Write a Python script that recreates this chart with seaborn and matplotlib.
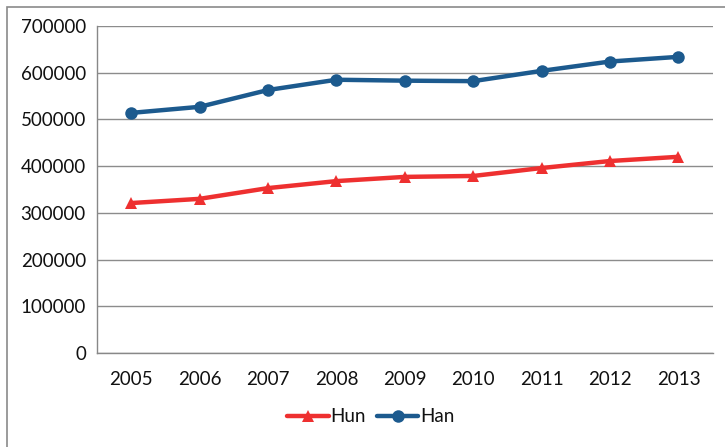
import pandas as pd
import matplotlib.pyplot as plt
import seaborn as sns
from matplotlib.patches import Rectangle

# datos
years = ["2005", "2006", "2007", "2008", "2009", "2010", "2011", "2012", "2013"]
hun = [321000, 330000, 353000, 368000, 377000, 379000, 396000, 411000, 420000]
han = [514000, 527000, 563000, 585000, 583000, 582000, 604000, 624000, 634000]

df = pd.DataFrame({
    "pos": list(range(len(years))) * 2,
    "value": hun + han,
    "serie": ["Hun"] * len(years) + ["Han"] * len(years),
})

sns.set_style("white")
plt.rcParams["font.family"] = ["Lato", "DejaVu Sans"]

fig = plt.figure(figsize=(7.25, 4.47), dpi=100)
ax = fig.add_axes([0.1338, 0.2103, 0.8492, 0.7315])

palette = {"Hun": "#EE3030", "Han": "#1C5A8E"}
sns.lineplot(
    data=df, x="pos", y="value", hue="serie", style="serie",
    markers={"Hun": "^", "Han": "o"}, dashes=False, palette=palette,
    linewidth=3.2, markersize=9, markeredgewidth=0, ax=ax,
)

fs = 13.5
ax.set_xlim(-0.5, len(years) - 0.5)
ax.set_ylim(0, 700000)
ax.set_yticks(range(0, 700001, 100000))
ax.set_yticklabels([str(v) for v in range(0, 700001, 100000)], fontsize=fs, color="#111111")
ax.set_xticks(range(len(years)))
ax.set_xticklabels(years, fontsize=fs, color="#111111")
ax.tick_params(axis="x", which="major", length=0, pad=13)
ax.set_xticks([i - 0.5 for i in range(len(years) + 1)], minor=True)
ax.tick_params(axis="x", which="minor", length=5, color="#888888", width=1)
ax.tick_params(axis="y", length=5, color="#888888", width=1, pad=3)
ax.yaxis.grid(True, color="#8c8c8c", linewidth=1)
ax.set_axisbelow(True)
ax.set_xlabel("")
ax.set_ylabel("")
for side in ["top", "right"]:
    ax.spines[side].set_visible(False)
for side in ["left", "bottom"]:
    ax.spines[side].set_color("#888888")
    ax.spines[side].set_linewidth(1)

leg = ax.legend(
    title=None, loc="center", bbox_to_anchor=(0.445, -0.195), ncol=2,
    frameon=False, fontsize=fs, handlelength=2.2, handletextpad=0.1,
    columnspacing=0.6,
)
for t in leg.get_texts():
    t.set_color("#111111")

# borde de la figura
fig.patches.append(Rectangle((0.0097, -0.1), 1.2, 1.084, transform=fig.transFigure,
                             fill=False, edgecolor="#8a8a8a", linewidth=1.2))

fig.savefig("out.png", dpi=100)
